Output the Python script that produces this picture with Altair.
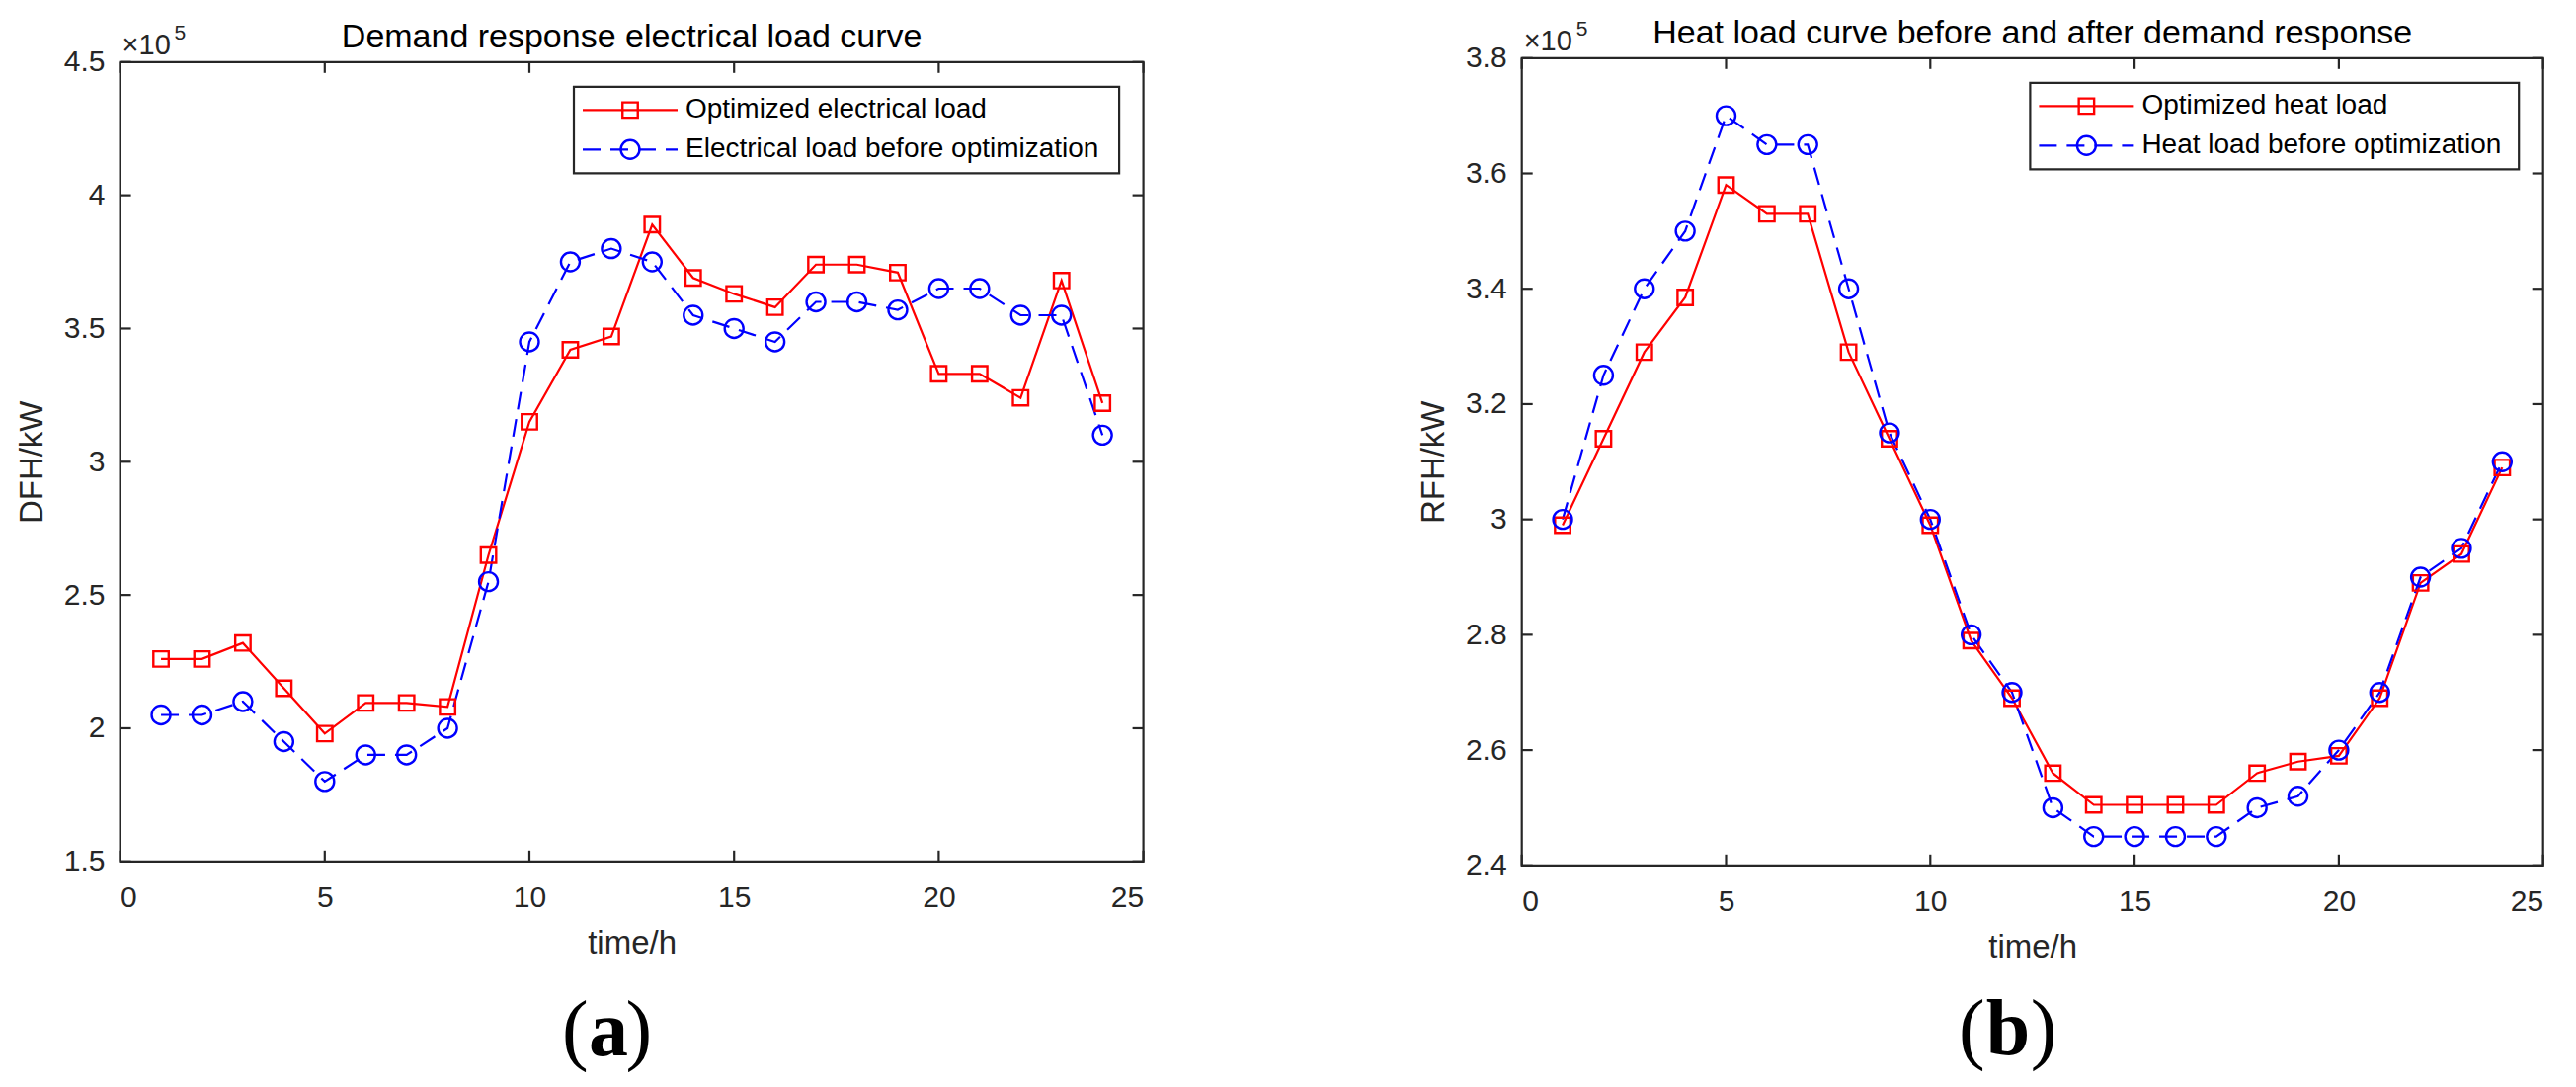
import altair as alt
import pandas as pd

# ---------------- data ----------------
hours = list(range(1, 25))
x_ticks = [0, 5, 10, 15, 20, 25]

elec_opt = [226000, 226000, 232000, 215000, 198000, 209500, 209500, 208000,
            265000, 315000, 342000, 347000, 389000, 369000, 363000, 358000,
            374000, 374000, 371000, 333000, 333000, 324000, 368000, 322000]
elec_before = [205000, 205000, 210000, 195000, 180000, 190000, 190000, 200000,
               255000, 345000, 375000, 380000, 375000, 355000, 350000, 345000,
               360000, 360000, 357000, 365000, 365000, 355000, 355000, 310000]
elec_y_ticks = [150000, 200000, 250000, 300000, 350000, 400000, 450000]
elec_labels = ["Optimized electrical load", "Electrical load before optimization"]

heat_opt = [299000, 314000, 329000, 338500, 358000, 353000, 353000, 329000,
            314000, 299000, 279000, 269000, 256000, 250500, 250500, 250500,
            250500, 256000, 258000, 259000, 269000, 289000, 294000, 309000]
heat_before = [300000, 325000, 340000, 350000, 370000, 365000, 365000, 340000,
               315000, 300000, 280000, 270000, 250000, 245000, 245000, 245000,
               245000, 250000, 252000, 260000, 270000, 290000, 295000, 310000]
heat_y_ticks = [240000, 260000, 280000, 300000, 320000, 340000, 360000, 380000]
heat_labels = ["Optimized heat load", "Heat load before optimization"]

titles = ["Demand response electrical load curve",
          "Heat load curve before and after demand response"]
y_titles = ["DFH/kW", "RFH/kW"]
x_title = "time/h"

# ---------------- style ----------------
AX = "#262626"
RED = "#FF0000"
BLUE = "#0000FF"
FONT = "Liberation Sans"
SERIF = "Liberation Serif"
DASH = [18, 10]
TL = 11  # inner tick length


def one(**kw):
    return pd.DataFrame({k: [v] for k, v in kw.items()})


def make_panel(title, ytitle, opt, before, yticks, labels, W, H, leg_left,
               letter, paren_l, letter_c, paren_r, letter_base):
    df = pd.DataFrame({"hour": hours, "opt": opt, "before": before})
    xs = alt.Scale(domain=[x_ticks[0], x_ticks[-1]], nice=False, zero=False)
    ys = alt.Scale(domain=[yticks[0], yticks[-1]], nice=False, zero=False)
    xaxis = alt.Axis(values=x_ticks, title=x_title, format="d", ticks=False,
                     tickSize=0, domain=False, grid=False, labelPadding=45.5,
                     labelBaseline="alphabetic", titleX=W / 2, titleY=92.5,
                     titleBaseline="alphabetic")
    yaxis = alt.Axis(values=yticks, title=ytitle,
                     labelExpr="format(datum.value / 100000, '.2~f')",
                     ticks=False, tickSize=0, domain=False, grid=False,
                     labelPadding=15.6, titleX=-89, titleY=H / 2,
                     titleBaseline="middle")

    def X(f):
        return alt.X(f, type="quantitative", scale=xs, axis=xaxis)

    def Y(f):
        return alt.Y(f, type="quantitative", scale=ys, axis=yaxis)

    base = alt.Chart(df)
    layers = [
        base.mark_line(color=RED, strokeWidth=2.2).encode(x=X("hour"), y=Y("opt")),
        base.mark_line(color=BLUE, strokeWidth=2.2, strokeDash=DASH).encode(x=X("hour"), y=Y("before")),
        base.mark_point(shape="square", filled=False, color=RED, size=240,
                        strokeWidth=2.4, opacity=1).encode(x=X("hour"), y=Y("opt")),
        base.mark_point(shape="circle", filled=False, color=BLUE, size=361,
                        strokeWidth=2.4, opacity=1).encode(x=X("hour"), y=Y("before")),
    ]

    # inner ticks on all four sides (MATLAB box style)
    xt = pd.DataFrame({"t": x_ticks})
    yt = pd.DataFrame({"t": yticks})
    rule = dict(color=AX, strokeWidth=2.2)
    layers += [
        alt.Chart(xt).mark_rule(**rule).encode(x=X("t"), y=alt.value(H), y2=alt.value(H - TL)),
        alt.Chart(xt).mark_rule(**rule).encode(x=X("t"), y=alt.value(0), y2=alt.value(TL)),
        alt.Chart(yt).mark_rule(**rule).encode(y=Y("t"), x=alt.value(0), x2=alt.value(TL)),
        alt.Chart(yt).mark_rule(**rule).encode(y=Y("t"), x=alt.value(W), x2=alt.value(W - TL)),
    ]

    # legend box (drawn inside the axes, top-right)
    rows = [48.6, 88.5]
    layers.append(
        alt.Chart(one(k=0)).mark_rect(fill="white", stroke=AX, strokeWidth=2.2).encode(
            x=alt.value(leg_left), x2=alt.value(W - 24.5),
            y=alt.value(25), y2=alt.value(112.5)))
    styles = [
        (RED, None, "square", 240),
        (BLUE, DASH, "circle", 361),
    ]
    for lab, r, (col, dash, shp, sz) in zip(labels, rows, styles):
        d = one(label=lab)
        lk = dict(color=col, strokeWidth=2.2)
        if dash:
            lk["strokeDash"] = dash
        layers += [
            alt.Chart(d).mark_rule(**lk).encode(
                x=alt.value(leg_left + 9), x2=alt.value(leg_left + 105), y=alt.value(r)),
            alt.Chart(d).mark_point(shape=shp, filled=False, color=col, size=sz,
                                    strokeWidth=2.4, opacity=1).encode(
                x=alt.value(leg_left + 57), y=alt.value(r)),
            alt.Chart(d).mark_text(align="left", baseline="middle", font=FONT,
                                   fontSize=28, color="black").encode(
                x=alt.value(leg_left + 113), y=alt.value(r), text="label:N"),
        ]

    # panel title
    layers.append(
        alt.Chart(one(s=title)).mark_text(align="center", baseline="alphabetic", font=FONT,
                                          fontSize=34, color="black").encode(
            x=alt.value(W / 2), y=alt.value(-15), text="s:N"))

    # exponent label  x10^5
    layers += [
        alt.Chart(one(s="×10")).mark_text(align="left", baseline="alphabetic", font=FONT,
                                          fontSize=29, color=AX).encode(
            x=alt.value(2), y=alt.value(-8), text="s:N"),
        alt.Chart(one(s="5")).mark_text(align="left", baseline="alphabetic", font=FONT,
                                        fontSize=21, color=AX).encode(
            x=alt.value(55), y=alt.value(-23), text="s:N"),
    ]

    # sub-figure label  (a) / (b)
    layers += [
        alt.Chart(one(s="(")).mark_text(align="right", baseline="alphabetic", font=SERIF,
                                        fontSize=80, color="black").encode(
            x=alt.value(paren_l), y=alt.value(letter_base), text="s:N"),
        alt.Chart(one(s=letter)).mark_text(align="center", baseline="alphabetic", font=SERIF,
                                           fontSize=80, fontWeight="bold", color="black").encode(
            x=alt.value(letter_c), y=alt.value(letter_base), text="s:N"),
        alt.Chart(one(s=")")).mark_text(align="left", baseline="alphabetic", font=SERIF,
                                        fontSize=80, color="black").encode(
            x=alt.value(paren_r), y=alt.value(letter_base), text="s:N"),
    ]

    return alt.layer(*layers).properties(width=W, height=H)


pa = make_panel(titles[0], y_titles[0], elec_opt, elec_before,
                elec_y_ticks, elec_labels, 1036, 809, 459.4,
                "a", 474, 494.3, 512, 1004.8)
pb = make_panel(titles[1], y_titles[1], heat_opt, heat_before,
                heat_y_ticks, heat_labels, 1034, 817, 514.7,
                "b", 469, 492.2, 515, 1008.7)

chart = alt.hconcat(pa, pb, spacing=383.1, bounds="flush", center=True).properties(
    padding={"left": 6.6, "top": 6.8, "right": 5, "bottom": 0},
    background="white",
).configure_view(
    stroke=AX, strokeWidth=2.2
).configure_axis(
    labelFont=FONT, labelFontSize=30, labelColor=AX,
    titleFont=FONT, titleFontSize=33, titleColor=AX, titleFontWeight="normal",
)

chart.save("out.html", embed_options={"renderer": "svg", "actions": False})
